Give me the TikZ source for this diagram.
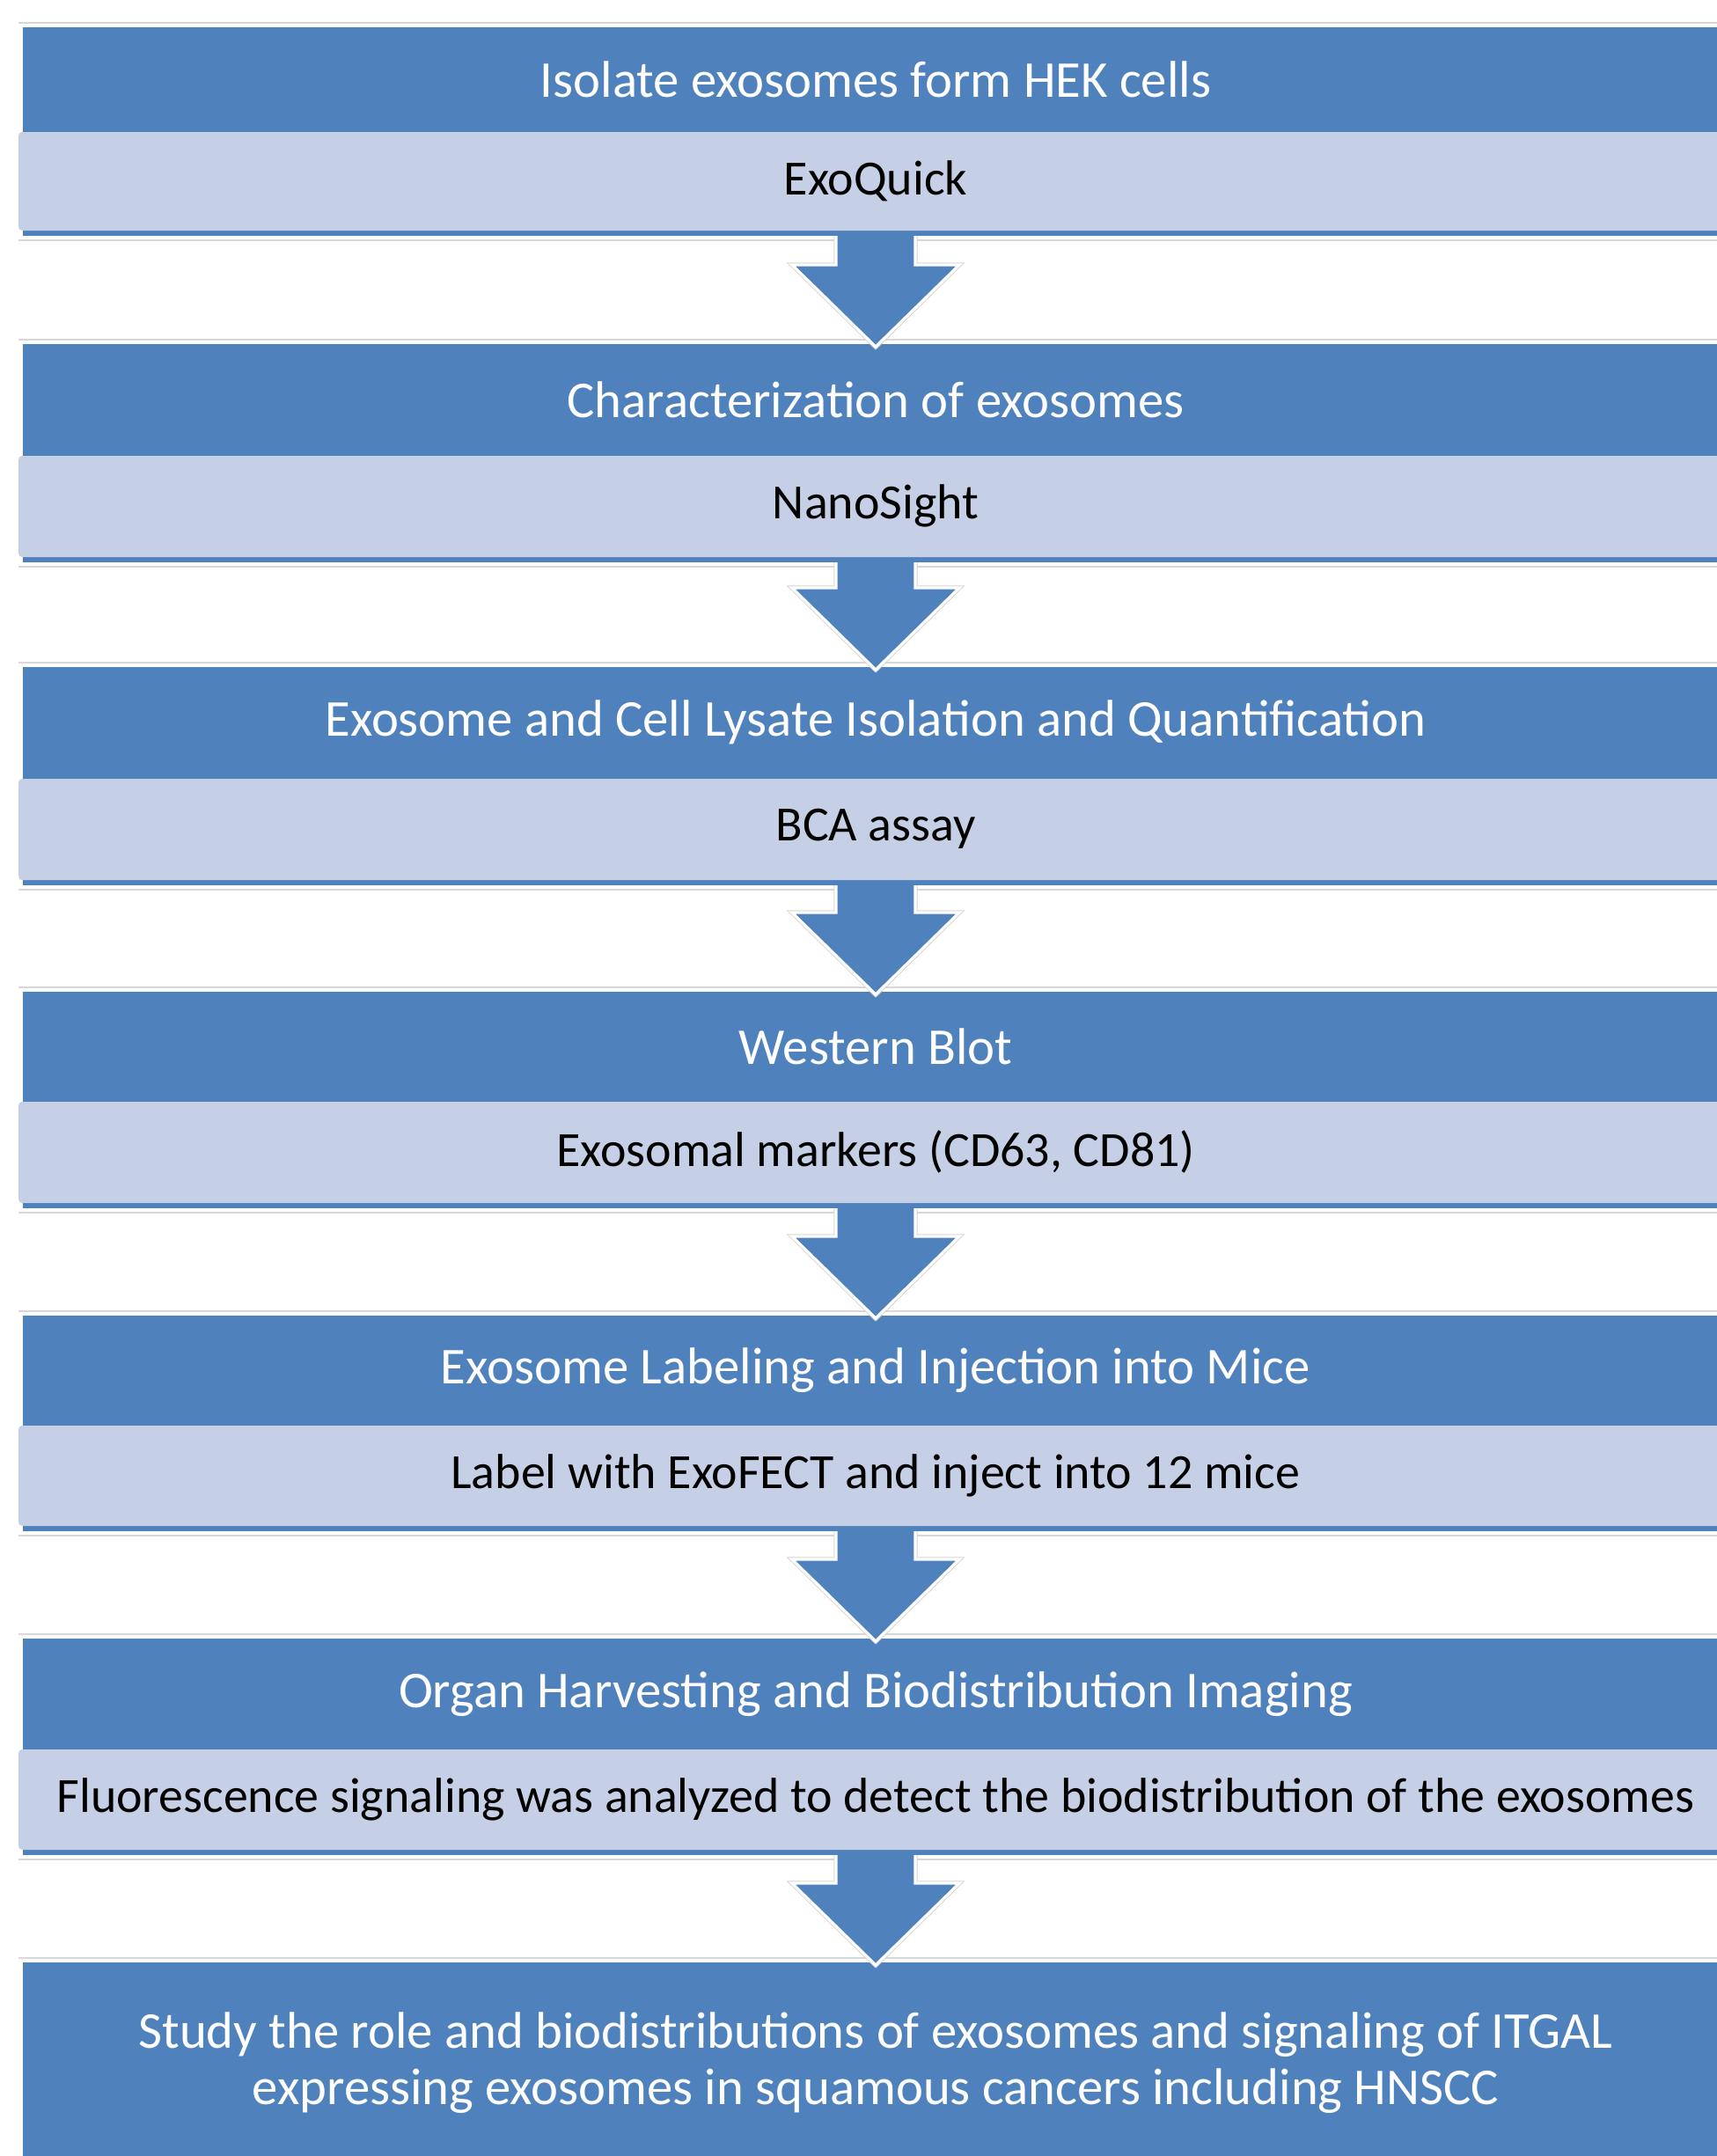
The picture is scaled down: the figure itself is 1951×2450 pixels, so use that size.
\documentclass[tikz,border=0pt]{standalone}
\usepackage{fontspec}
\setmainfont{Carlito}
\usepackage{tikz}
\usetikzlibrary{calc}
\usepackage{xcolor}
\definecolor{hdrblue}{RGB}{79, 129, 189}
\definecolor{subblue}{RGB}{197, 208, 230}
\definecolor{rimgray}{RGB}{215, 215, 215}
\tikzset{
  % Blocks
  hdrbox/.style   = {fill=hdrblue},
  subbox/.style   = {fill=subblue, rounded corners=1.2pt},
  rimline/.style  = {draw=rimgray, line width=0.5pt},
  % Texts
  hdrtext/.style  = {text=white, font=\fontsize{16.7}{18.2}\selectfont, align=center, inner sep=0pt},
  subtext/.style  = {text=black, font=\fontsize{15.9}{18.2}\selectfont, inner sep=0pt},
  % Block arrows
  flowarrow/.style = {fill=hdrblue, draw=white, line width=0.9pt, line join=miter,
                      preaction={draw=rimgray, line width=1.5pt}},
}

\begin{document}
\begin{tikzpicture}[x=0.01cm, y=-0.01cm]
  \useasboundingbox (0,0) rectangle (1951,2450);
  % Step blocks: header top / sub top / sub bottom
  \foreach \n/\ya/\yb/\yc in {1/31/150/262, 2/391/518/633, 3/758/885/1000,
                              4/1127/1252/1367, 5/1495/1620/1734, 6/1862/1988/2102} {
    \draw[rimline] (21,\ya-5) -- (1951,\ya-5);
    \draw[rimline] (21,\yc+11) -- (1951,\yc+11);
    \fill[hdrbox] (26,\ya) rectangle (1965,\yc+6);
    \fill[subbox] (21,\yb) rectangle (1970,\yc);
    \coordinate (top\n) at (995,\ya);
    \coordinate (bot\n) at (995,\yc+6);
  }
  % Last block
  \draw[rimline] (21,2225) -- (1951,2225);
  \fill[hdrbox] (26,2230) rectangle (1965,2470);
  \coordinate (top7) at (995,2230);

  % Texts
  \node[hdrtext] (hdrA) at (995,90)  {Isolate exosomes form HEK cells};
  \node[subtext] (subA) at (995,206) {ExoQuick};
  \node[hdrtext] (hdrB) at (995,454) {Characterization of exosomes};
  \node[subtext] (subB) at (995,575) {NanoSight};
  \node[hdrtext] (hdrC) at (995,821) {Exosome and Cell Lysate Isolation and Quantification};
  \node[subtext] (subC) at (995,942) {BCA assay};
  \node[hdrtext] (hdrD) at (995,1189) {Western Blot};
  \node[subtext] (subD) at (995,1309) {Exosomal markers (CD63, CD81)};
  \node[hdrtext] (hdrE) at (995,1557) {Exosome Labeling and Injection into Mice};
  \node[subtext] (subE) at (995,1677) {Label with ExoFECT and inject into 12 mice};
  \node[hdrtext] (hdrF) at (995,1925) {Organ Harvesting and Biodistribution Imaging};
  \node[subtext] (subF) at (995,2045) {Fluorescence signaling was analyzed to detect the biodistribution of the exosomes};
  \node[hdrtext] (hdrG) at (995,2344) {Study the role and biodistributions of exosomes and signaling of ITGAL\\
                                       expressing exosomes in squamous cancers including HNSCC};

  % Arrows between blocks
  \foreach \a/\b in {1/2, 2/3, 3/4, 4/5, 5/6, 6/7} {
    \filldraw[flowarrow]
      ($(bot\a)+(45,0)$) -- ($(top\b)+(45,-90)$) -- ($(top\b)+(95,-90)$)
      -- ($(top\b)+(0,3)$) -- ($(top\b)+(-95,-90)$) -- ($(top\b)+(-45,-90)$)
      -- ($(bot\a)+(-45,0)$);
  }
\end{tikzpicture}
\end{document}
